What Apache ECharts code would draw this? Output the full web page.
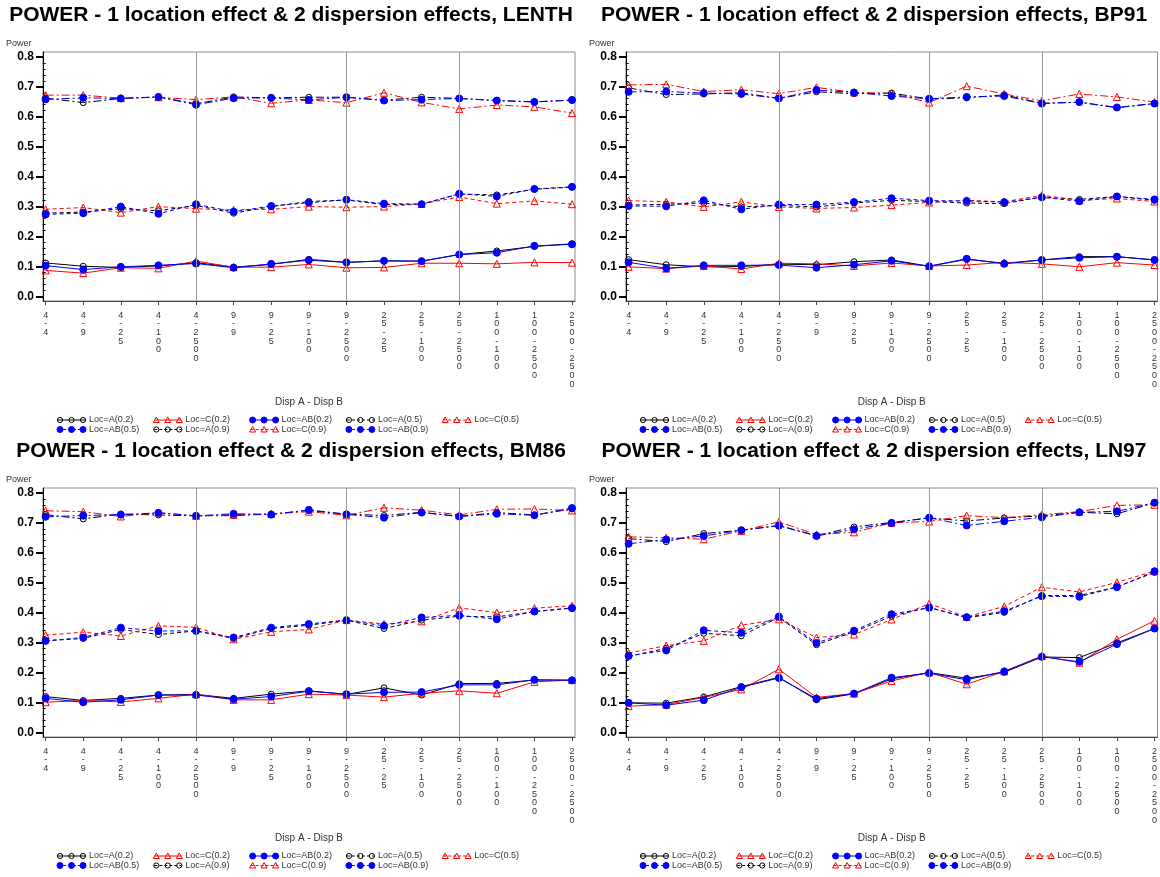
<!DOCTYPE html>
<html>
<head>
<meta charset="utf-8">
<title>POWER - 1 location effect & 2 dispersion effects</title>
<script src="https://cdn.jsdelivr.net/npm/echarts@6/dist/echarts.min.js"></script>
<style>
  html, body { margin: 0; padding: 0; background: #fff; }
  #chart { width: 1160px; height: 877px; }
</style>
</head>
<body>
<div id="chart"></div>
<script>
// Dispersion pairs (Disp A - Disp B) along the x axis
const categories = ['4-4', '4-9', '4-25', '4-100', '4-2500', '9-9', '9-25', '9-100', '9-2500',
  '25-25', '25-100', '25-2500', '100-100', '100-2500', '2500-2500'];
// Pairs after which a new Disp A block starts (vertical reference lines)
const dividerCats = ['4-2500', '9-2500', '25-2500'];

// Y axis tick values and their labels
const yTickValues = [0, 0.1, 0.2, 0.3, 0.4, 0.5, 0.6, 0.7, 0.8];
const yTickLabels = ['0.0', '0.1', '0.2', '0.3', '0.4', '0.5', '0.6', '0.7', '0.8'];

// Series legend labels
const seriesNames = ['Loc=A(0.2)', 'Loc=C(0.2)', 'Loc=AB(0.2)', 'Loc=A(0.5)', 'Loc=C(0.5)',
  'Loc=AB(0.5)', 'Loc=A(0.9)', 'Loc=C(0.9)', 'Loc=AB(0.9)'];

// ---- LENTH ----
const lenthA2  = [0.112, 0.101, 0.097, 0.102, 0.113, 0.098, 0.107, 0.124, 0.114, 0.119, 0.118, 0.140, 0.152, 0.167, 0.176];
const lenthC2  = [0.087, 0.078, 0.096, 0.094, 0.118, 0.098, 0.098, 0.107, 0.096, 0.097, 0.111, 0.111, 0.109, 0.114, 0.113];
const lenthAB2 = [0.103, 0.090, 0.099, 0.104, 0.110, 0.096, 0.109, 0.121, 0.114, 0.119, 0.118, 0.140, 0.146, 0.169, 0.174];
const lenthA5  = [0.278, 0.282, 0.293, 0.286, 0.304, 0.278, 0.300, 0.317, 0.322, 0.307, 0.308, 0.342, 0.339, 0.358, 0.365];
const lenthC5  = [0.291, 0.297, 0.280, 0.300, 0.293, 0.289, 0.291, 0.300, 0.298, 0.300, 0.309, 0.332, 0.310, 0.319, 0.308];
const lenthAB5 = [0.274, 0.278, 0.300, 0.276, 0.308, 0.283, 0.302, 0.313, 0.323, 0.310, 0.308, 0.343, 0.334, 0.359, 0.366];
const lenthA9  = [0.662, 0.647, 0.661, 0.666, 0.643, 0.666, 0.663, 0.665, 0.665, 0.655, 0.665, 0.661, 0.654, 0.650, 0.655];
const lenthC9  = [0.672, 0.672, 0.662, 0.665, 0.657, 0.666, 0.645, 0.656, 0.647, 0.680, 0.648, 0.626, 0.639, 0.633, 0.612];
const lenthAB9 = [0.658, 0.663, 0.661, 0.666, 0.640, 0.662, 0.663, 0.656, 0.665, 0.654, 0.657, 0.661, 0.654, 0.649, 0.656];

// ---- BP91 ----
const bp91A2  = [0.123, 0.106, 0.099, 0.100, 0.108, 0.106, 0.116, 0.122, 0.101, 0.124, 0.111, 0.122, 0.133, 0.133, 0.122];
const bp91C2  = [0.099, 0.093, 0.102, 0.092, 0.111, 0.109, 0.102, 0.112, 0.102, 0.105, 0.114, 0.109, 0.099, 0.113, 0.105];
const bp91AB2 = [0.114, 0.094, 0.104, 0.104, 0.105, 0.096, 0.106, 0.119, 0.101, 0.126, 0.109, 0.122, 0.129, 0.133, 0.122];
const bp91A5  = [0.305, 0.308, 0.312, 0.299, 0.304, 0.299, 0.312, 0.321, 0.317, 0.312, 0.310, 0.332, 0.324, 0.334, 0.321];
const bp91C5  = [0.320, 0.316, 0.299, 0.316, 0.299, 0.294, 0.297, 0.305, 0.314, 0.321, 0.316, 0.338, 0.321, 0.327, 0.317];
const bp91AB5 = [0.302, 0.301, 0.321, 0.291, 0.307, 0.307, 0.315, 0.328, 0.320, 0.319, 0.315, 0.331, 0.318, 0.334, 0.324];
const bp91A9  = [0.696, 0.674, 0.676, 0.680, 0.661, 0.683, 0.677, 0.679, 0.659, 0.663, 0.673, 0.645, 0.648, 0.630, 0.644];
const bp91C9  = [0.706, 0.708, 0.684, 0.690, 0.677, 0.698, 0.681, 0.678, 0.647, 0.702, 0.676, 0.653, 0.676, 0.666, 0.649];
const bp91AB9 = [0.683, 0.684, 0.679, 0.676, 0.661, 0.689, 0.681, 0.669, 0.660, 0.666, 0.669, 0.644, 0.649, 0.631, 0.644];

// ---- BM86 ----
const bm86A2  = [0.120, 0.107, 0.114, 0.125, 0.127, 0.114, 0.128, 0.139, 0.127, 0.149, 0.125, 0.163, 0.164, 0.175, 0.175];
const bm86C2  = [0.101, 0.107, 0.102, 0.114, 0.128, 0.109, 0.109, 0.128, 0.125, 0.118, 0.131, 0.139, 0.131, 0.169, 0.175];
const bm86AB2 = [0.114, 0.101, 0.109, 0.125, 0.125, 0.111, 0.120, 0.138, 0.128, 0.134, 0.135, 0.159, 0.159, 0.176, 0.174];
const bm86A5  = [0.306, 0.314, 0.344, 0.327, 0.339, 0.314, 0.347, 0.358, 0.375, 0.347, 0.375, 0.388, 0.386, 0.403, 0.416];
const bm86C5  = [0.325, 0.335, 0.322, 0.356, 0.351, 0.311, 0.336, 0.344, 0.375, 0.362, 0.371, 0.416, 0.400, 0.415, 0.423];
const bm86AB5 = [0.306, 0.317, 0.350, 0.339, 0.339, 0.317, 0.350, 0.362, 0.375, 0.356, 0.384, 0.391, 0.378, 0.404, 0.415];
const bm86A9  = [0.727, 0.713, 0.729, 0.726, 0.723, 0.724, 0.729, 0.741, 0.729, 0.724, 0.735, 0.721, 0.734, 0.726, 0.746];
const bm86C9  = [0.740, 0.737, 0.721, 0.734, 0.723, 0.727, 0.730, 0.737, 0.725, 0.750, 0.742, 0.726, 0.745, 0.746, 0.741];
const bm86AB9 = [0.720, 0.724, 0.727, 0.733, 0.723, 0.730, 0.727, 0.743, 0.728, 0.717, 0.734, 0.721, 0.730, 0.725, 0.749];

// ---- LN97 ----
const ln97A2  = [0.099, 0.098, 0.119, 0.153, 0.184, 0.109, 0.129, 0.179, 0.200, 0.181, 0.201, 0.252, 0.250, 0.299, 0.347];
const ln97C2  = [0.088, 0.093, 0.117, 0.144, 0.211, 0.117, 0.130, 0.172, 0.201, 0.161, 0.204, 0.255, 0.233, 0.311, 0.373];
const ln97AB2 = [0.099, 0.091, 0.108, 0.151, 0.182, 0.113, 0.130, 0.183, 0.198, 0.176, 0.204, 0.253, 0.236, 0.295, 0.347];
const ln97A5  = [0.254, 0.281, 0.331, 0.323, 0.384, 0.293, 0.336, 0.388, 0.418, 0.383, 0.401, 0.457, 0.457, 0.486, 0.534];
const ln97C5  = [0.265, 0.290, 0.306, 0.358, 0.378, 0.317, 0.327, 0.377, 0.430, 0.386, 0.421, 0.485, 0.469, 0.501, 0.539];
const ln97AB5 = [0.256, 0.274, 0.341, 0.333, 0.387, 0.299, 0.340, 0.395, 0.416, 0.385, 0.405, 0.455, 0.453, 0.485, 0.538];
const ln97A9  = [0.647, 0.637, 0.664, 0.675, 0.691, 0.657, 0.686, 0.701, 0.716, 0.706, 0.716, 0.723, 0.735, 0.730, 0.766];
const ln97C9  = [0.653, 0.650, 0.645, 0.673, 0.703, 0.661, 0.668, 0.700, 0.704, 0.724, 0.717, 0.727, 0.737, 0.758, 0.760];
const ln97AB9 = [0.630, 0.644, 0.656, 0.675, 0.690, 0.656, 0.678, 0.699, 0.717, 0.691, 0.705, 0.718, 0.735, 0.738, 0.767];

// Panels: method name, its nine series (in legend order) and panel offset on the page
const panels = [
  { method: 'LENTH', series: [lenthA2, lenthC2, lenthAB2, lenthA5, lenthC5, lenthAB5, lenthA9, lenthC9, lenthAB9], dx: 0,   dy: 0 },
  { method: 'BP91',  series: [bp91A2, bp91C2, bp91AB2, bp91A5, bp91C5, bp91AB5, bp91A9, bp91C9, bp91AB9],       dx: 583, dy: 0 },
  { method: 'BM86',  series: [bm86A2, bm86C2, bm86AB2, bm86A5, bm86C5, bm86AB5, bm86A9, bm86C9, bm86AB9],       dx: 0,   dy: 436 },
  { method: 'LN97',  series: [ln97A2, ln97C2, ln97AB2, ln97A5, ln97C5, ln97AB5, ln97A9, ln97C9, ln97AB9],       dx: 583, dy: 436 }
];

// Marker / line look per location and per effect size
const locStyle = {
  A:  { color: '#000000', symbol: 'circle',   fill: 'rgba(0,0,0,0)', size: 6 },
  C:  { color: '#ff0000', symbol: 'triangle', fill: 'rgba(0,0,0,0)', size: 7 },
  AB: { color: '#0000ff', symbol: 'circle',   fill: '#0000ff',       size: 7 }
};
const effectDash = { '0.2': 'solid', '0.5': [4, 3], '0.9': [8, 3, 2, 3] };

function parseName(name) {
  const m = name.match(/Loc=(\w+)\(([\d.]+)\)/);
  return { loc: m[1], eff: m[2] };
}

const catIdx = categories.map((_, i) => i);
const dividerIdx = dividerCats.map(c => categories.indexOf(c));
const minorTicks = [];
for (let k = 1; k < 40; k++) { if (k % 5 !== 0) minorTicks.push(+(k * 0.02).toFixed(2)); }

const FONT = '"Liberation Sans", Arial, sans-serif';
const grids = [], xAxes = [], yAxes = [], series = [], graphics = [];

panels.forEach((p, pi) => {
  const gLeft = 43 + p.dx, gTop = 52 + p.dy, gW = 532, gH = 249;
  grids.push({ left: gLeft, top: gTop, width: gW, height: gH, show: true,
    borderColor: '#8a8a8a', borderWidth: 1, backgroundColor: 'transparent', containLabel: false });

  xAxes.push({
    gridIndex: pi, type: 'value', min: -0.07, max: 14.08,
    name: 'Disp A - Disp B', nameLocation: 'middle', nameGap: 96,
    nameTextStyle: { fontSize: 10, color: '#333', fontFamily: FONT },
    axisLine: { show: true, onZero: false, lineStyle: { color: '#444', width: 1 } },
    axisTick: { show: true, customValues: catIdx, length: 4, lineStyle: { color: '#444' } },
    axisLabel: { show: true, customValues: catIdx, margin: 10, fontSize: 9, lineHeight: 8.6,
      color: '#333', fontFamily: FONT, verticalAlign: 'top',
      formatter: v => categories[Math.round(v)].split('').join('\n') },
    splitLine: { show: false }
  });

  yAxes.push({
    gridIndex: pi, type: 'value', min: -0.015, max: 0.816, position: 'left',
    axisLine: { show: true, onZero: false, lineStyle: { color: '#000', width: 1 } },
    axisTick: { show: true, customValues: yTickValues, length: 7, lineStyle: { color: '#000', width: 2 } },
    axisLabel: { show: true, customValues: yTickValues, margin: 9, fontSize: 12, fontWeight: 'bold',
      color: '#000', fontFamily: FONT,
      formatter: v => yTickLabels[Math.round(v * 10)] },
    splitLine: { show: false }
  });
  yAxes.push({
    gridIndex: pi, type: 'value', min: -0.015, max: 0.816, position: 'left',
    axisLine: { show: false },
    axisTick: { show: true, customValues: minorTicks, length: 3, lineStyle: { color: '#000', width: 1 } },
    axisLabel: { show: false },
    splitLine: { show: false }
  });

  p.series.forEach((vals, si) => {
    const info = parseName(seriesNames[si]);
    const st = locStyle[info.loc];
    const s = {
      name: seriesNames[si], type: 'line', xAxisIndex: pi, yAxisIndex: pi * 2,
      data: catIdx.map(i => [i, vals[i]]),
      symbol: st.symbol, symbolSize: st.size, showAllSymbol: true,
      itemStyle: { color: st.fill, borderColor: st.color, borderWidth: 1 },
      lineStyle: { color: st.color, width: 1, type: effectDash[info.eff] },
      emphasis: { disabled: true }, silent: true, animation: false, z: 3
    };
    if (si === 0) {
      s.markLine = {
        silent: true, symbol: ['none', 'none'], animation: false,
        label: { show: false },
        lineStyle: { color: '#9a9a9a', type: 'solid', width: 1 },
        data: dividerIdx.map(i => ({ xAxis: i }))
      };
    }
    series.push(s);
  });

  // Panel title
  graphics.push({ type: 'text', x: 291 + p.dx, y: 15 + p.dy, silent: true,
    style: { text: 'POWER - 1 location effect & 2 dispersion effects, ' + p.method,
      font: 'bold 21px ' + FONT, fill: '#000', align: 'center', verticalAlign: 'middle' } });
  // Y axis caption
  graphics.push({ type: 'text', x: 6 + p.dx, y: 44 + p.dy, silent: true,
    style: { text: 'Power', font: '9px ' + FONT, fill: '#333', align: 'left', verticalAlign: 'middle' } });

  // Legend: two rows, each entry is a short line with three markers and the label
  seriesNames.forEach((nm, si) => {
    const info = parseName(nm);
    const st = locStyle[info.loc];
    const row = si < 5 ? 0 : 1, col = si < 5 ? si : si - 5;
    const x0 = 58 + col * 96.3 + p.dx, y0 = 420 + row * 9.5 + p.dy;
    const dash = effectDash[info.eff];
    graphics.push({ type: 'line', silent: true, shape: { x1: x0, y1: y0, x2: x0 + 27, y2: y0 },
      style: { stroke: st.color, lineWidth: 1, lineDash: dash === 'solid' ? null : [3, 2] } });
    [x0 + 2, x0 + 13.5, x0 + 25].forEach(cx => {
      if (st.symbol === 'triangle') {
        graphics.push({ type: 'polygon', silent: true,
          shape: { points: [[cx, y0 - 3], [cx - 3, y0 + 2.5], [cx + 3, y0 + 2.5]] },
          style: { fill: 'rgba(0,0,0,0)', stroke: st.color, lineWidth: 1 } });
      } else {
        graphics.push({ type: 'circle', silent: true, shape: { cx: cx, cy: y0, r: st.size === 7 ? 3 : 2.6 },
          style: { fill: st.fill, stroke: st.color, lineWidth: 1 } });
      }
    });
    graphics.push({ type: 'text', x: x0 + 31, y: y0, silent: true,
      style: { text: nm, font: '9px ' + FONT, fill: '#333', align: 'left', verticalAlign: 'middle' } });
  });
});

const chart = echarts.init(document.getElementById('chart'), null, { renderer: 'canvas' });
chart.setOption({
  backgroundColor: '#fff',
  animation: false,
  grid: grids,
  xAxis: xAxes,
  yAxis: yAxes,
  series: series,
  graphic: graphics
});
</script>
</body>
</html>
